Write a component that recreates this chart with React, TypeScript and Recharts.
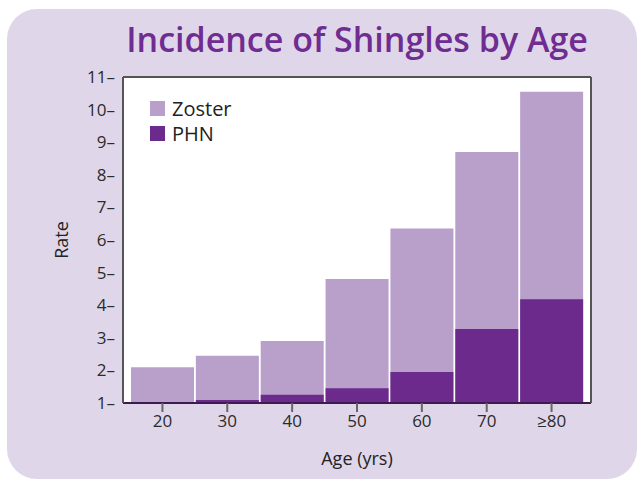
import { BarChart, Bar, XAxis, YAxis, CartesianGrid } from 'recharts';

const ageGroups = ['20', '30', '40', '50', '60', '70', '≥80'];
const zosterRate = [2.1, 2.45, 2.9, 4.8, 6.35, 8.7, 10.55];
const phnRate = [1.03, 1.09, 1.25, 1.45, 1.95, 3.27, 4.18];
const rateTicks = [1, 2, 3, 4, 5, 6, 7, 8, 9, 10, 11];

const data = ageGroups.map((age, i) => ({ age, zoster: zosterRate[i], phn: phnRate[i] }));

const FONT = '"Open Sans", sans-serif';
const ZOSTER = '#b9a0cb';
const PHN = '#6c2a8c';

const legendItems = [
    { name: 'Zoster', color: ZOSTER },
    { name: 'PHN', color: PHN },
];

function LegendBox() {
    return (
        <div style={{ position: 'absolute', left: 150, top: 96, fontFamily: FONT }}>
            {legendItems.map((it) => (
                <div key={it.name} style={{ display: 'flex', alignItems: 'center', height: 25 }}>
                    <span style={{ width: 15, height: 15, background: it.color, marginRight: 7 }} />
                    <span style={{ fontSize: 20, color: '#222' }}>{it.name}</span>
                </div>
            ))}
        </div>
    );
}

export default function App() {
    return (
        <div style={{ position: 'absolute', left: 0, top: 0, width: 637, height: 482, overflow: 'hidden', background: '#fff' }}>
            <div
                style={{
                    position: 'absolute',
                    left: 7,
                    top: 9,
                    width: 630,
                    height: 470,
                    borderRadius: 30,
                    background: '#e0d6e9',
                }}
            />
            <div
                style={{
                    position: 'absolute',
                    left: 123,
                    top: 22,
                    width: 468,
                    textAlign: 'center',
                    fontFamily: FONT,
                    fontSize: 34,
                    lineHeight: '34px',
                    fontWeight: 600,
                    color: '#6f2c91',
                    whiteSpace: 'nowrap',
                }}
            >
                Incidence of Shingles by Age
            </div>
            <div style={{ position: 'absolute', left: 0, top: 0 }}>
                <BarChart
                    width={637}
                    height={482}
                    data={data}
                    margin={{ top: 76, right: 45, bottom: 0, left: 0 }}
                    barSize={63}
                    barGap={-63}
                >
                    <CartesianGrid fill="#fff" horizontal={false} vertical={false} />
                    <XAxis
                        dataKey="age"
                        xAxisId="bottom"
                        height={79}
                        padding={{ left: 7, right: 7 }}
                        axisLine={{ stroke: '#3d1a4f', strokeWidth: 2 }}
                        tickLine={{ stroke: '#666', strokeWidth: 2 }}
                        tickSize={9}
                        tickMargin={3}
                        tick={{ fill: '#2b2b2b', fontSize: 17, fontFamily: FONT }}
                        label={{ value: 'Age (yrs)', position: 'insideBottom', offset: 17, fill: '#222', fontSize: 18, fontFamily: FONT }}
                    />
                    <XAxis
                        dataKey="age"
                        xAxisId="top"
                        orientation="top"
                        height={1}
                        axisLine={{ stroke: '#555', strokeWidth: 2 }}
                        tick={false}
                        tickLine={false}
                    />
                    <YAxis
                        yAxisId="left"
                        width={123}
                        domain={[1, 11]}
                        ticks={rateTicks}
                        allowDataOverflow
                        axisLine={{ stroke: '#555', strokeWidth: 2 }}
                        tickLine={false}
                        tickSize={0}
                        tickMargin={8}
                        tickFormatter={(v) => `${v}–`}
                        tick={{ fill: '#2b2b2b', fontSize: 17, fontFamily: FONT }}
                        label={{ value: 'Rate', angle: -90, position: 'center', fill: '#222', fontSize: 18, fontFamily: FONT }}
                    />
                    <YAxis
                        yAxisId="right"
                        orientation="right"
                        width={1}
                        domain={[1, 11]}
                        axisLine={{ stroke: '#555', strokeWidth: 2 }}
                        tick={false}
                        tickLine={false}
                    />
                    <Bar dataKey="zoster" name="Zoster" xAxisId="bottom" yAxisId="left" fill={ZOSTER} isAnimationActive={false} />
                    <Bar dataKey="phn" name="PHN" xAxisId="bottom" yAxisId="left" fill={PHN} isAnimationActive={false} />
                </BarChart>
            </div>
            <LegendBox />
        </div>
    );
}
